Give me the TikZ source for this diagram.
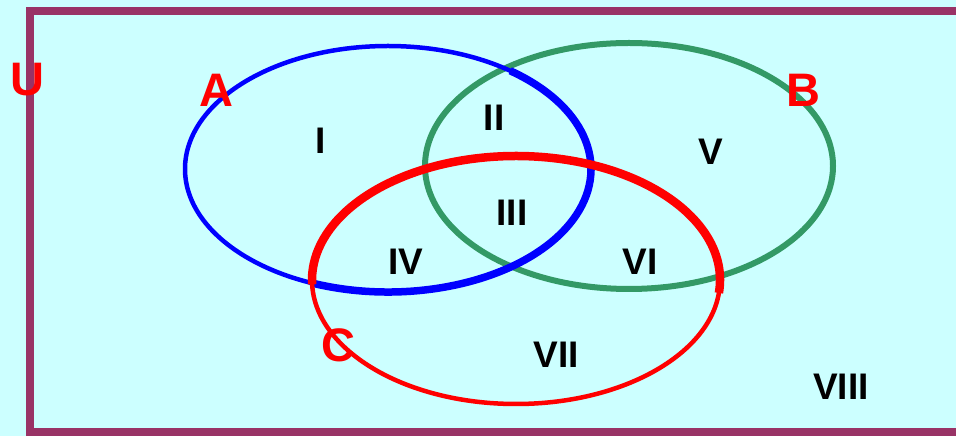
\documentclass[tikz,border=0pt]{standalone}
\usepackage{fontspec}
\setmainfont{Liberation Sans}
\definecolor{bgcyan}{HTML}{CCFFFF}
\definecolor{framecol}{HTML}{993366}
\definecolor{vgreen}{HTML}{339966}
\begin{document}
\begin{tikzpicture}[x=1pt,y=1pt,
  setlbl/.style={text=red,font=\fontsize{47}{47}\selectfont\bfseries,inner sep=0pt},
  reglbl/.style={text=black,font=\fontsize{37}{37}\selectfont\bfseries,inner sep=0pt}]
\useasboundingbox (0,0) rectangle (956,436);
\clip (0,0) rectangle (956,436);
\fill[bgcyan] (0,0) rectangle (956,436);
\draw[framecol,line width=8] (30,3.5) rectangle (985,425);
% B
\draw[vgreen,line width=6] (629,270) ellipse [x radius=204,y radius=123];
% A
\draw[blue,line width=4.5] (388,267) ellipse [x radius=203,y radius=123];
\draw[blue,line width=7.5] (388,267) ++(-112:203 and 123)
  arc[start angle=-112,end angle=53,x radius=203,y radius=123];
% C
\draw[red,line width=4.5] (516,156) ellipse [x radius=204,y radius=124];
\draw[red,line width=8.5] (516,156) ++(-6:204 and 124)
  arc[start angle=-6,end angle=182,x radius=204,y radius=124];
% set labels
\node[setlbl] (lU) at (27.5,356) {U};
\node[setlbl] (lA) at (216,346) {A};
\node[setlbl] (lB) at (803,346) {B};
\node[setlbl] (lC) at (338,91) {C};
% region labels
\node[reglbl] (r1) at (321,295) {I};
\node[reglbl] (r2) at (494,318) {II};
\node[reglbl] (r3) at (512,223) {III};
\node[reglbl] (r4) at (406,174) {IV};
\node[reglbl] (r5) at (711,284) {V};
\node[reglbl] (r6) at (640,174) {VI};
\node[reglbl] (r7) at (556,81) {VII};
\node[reglbl] (r8) at (841,49) {VIII};
\end{tikzpicture}
\end{document}
